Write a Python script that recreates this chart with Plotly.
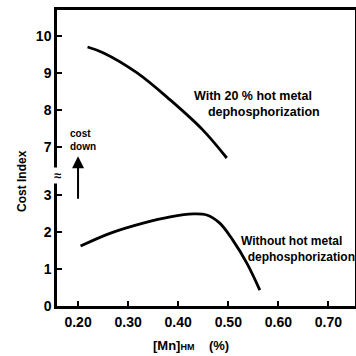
import plotly.graph_objects as go

mn_with = [0.219, 0.251, 0.318, 0.384, 0.449, 0.497]
cost_with = [9.70, 9.54, 9.00, 8.27, 7.46, 6.70]   # upper scale (7-10)

mn_without = [0.205, 0.265, 0.330, 0.384, 0.430, 0.457, 0.483, 0.509, 0.537, 0.563]
cost_without = [1.62, 1.97, 2.24, 2.41, 2.49, 2.46, 2.24, 1.78, 1.16, 0.43]

x_ticks = [0.20, 0.30, 0.40, 0.50, 0.60, 0.70]
x_labels = ["0.20", "0.30", "0.40", "0.50", "0.60", "0.70"]
y_low_ticks = [0, 1, 2, 3]
y_high_ticks = [7, 8, 9, 10]

BREAK_SHIFT = 2.7  # upper scale displayed shifted down (axis break)

def up(v):
    return v - BREAK_SHIFT

FONT = "Liberation Sans"
fig = go.Figure()
fig.add_trace(go.Scatter(x=mn_with, y=[up(v) for v in cost_with], mode="lines",
                         line=dict(color="black", width=2.8, shape="spline"), showlegend=False))
fig.add_trace(go.Scatter(x=mn_without, y=cost_without, mode="lines",
                         line=dict(color="black", width=2.8, shape="spline"), showlegend=False))

tickvals = y_low_ticks + [up(v) for v in y_high_ticks]
ticktext = [str(v) for v in y_low_ticks + y_high_ticks]

fig.update_layout(
    width=356, height=356,
    margin=dict(l=57, r=1, t=10, b=50, autoexpand=False),
    paper_bgcolor="white", plot_bgcolor="white",
    font=dict(family=FONT, color="black"),
    xaxis=dict(range=[0.158, 0.753], tickvals=x_ticks, ticktext=x_labels,
               ticks="inside", ticklen=5, tickwidth=2, tickcolor="black",
               showline=True, linecolor="black", linewidth=2.5, mirror=True,
               showgrid=False, zeroline=False,
               tickfont=dict(size=14, family=FONT, weight="bold"),
               ticklabelstandoff=1),
    yaxis=dict(range=[0, 8.0], tickvals=tickvals, ticktext=ticktext,
               ticks="inside", ticklen=5, tickwidth=2, tickcolor="black",
               showline=True, linecolor="black", linewidth=2.5, mirror=True,
               showgrid=False, zeroline=False,
               tickfont=dict(size=14, family=FONT, weight="bold"),
               ticklabelstandoff=0),
)

# axis titles
fig.add_annotation(x=(191 - 57) / 298, xref="paper", y=-0.132, yref="paper",
                   text="[Mn]<span style='font-size:9px'>HM</span>    (%)", showarrow=False,
                   font=dict(size=13, family=FONT, weight="bold"), xanchor="center", yanchor="middle")
fig.add_annotation(x=(22 - 57) / 298, xref="paper", y=(306 - 181) / 296, yref="paper",
                   text="Cost Index", showarrow=False,
                   font=dict(size=12, family=FONT, weight="bold"), textangle=-90,
                   xanchor="center", yanchor="middle")

# axis break mark
fig.add_annotation(x=0, xref="paper", y=3.54, yref="y", text="≈", showarrow=False,
                   font=dict(size=13, family=FONT, weight="bold"), bgcolor="white",
                   borderpad=0, xanchor="center", yanchor="middle")

# cost down arrow
fig.add_annotation(x=0.20, y=4.05, ax=0.20, ay=2.86, xref="x", yref="y", axref="x", ayref="y",
                   text="", showarrow=True, arrowhead=2, arrowsize=1.2, arrowwidth=2, arrowcolor="black")
fig.add_annotation(x=0.209, y=4.49, xref="x", yref="y", text="cost<br>down", showarrow=False,
                   font=dict(size=10, family=FONT, weight="bold"), align="left", xanchor="center")

fig.add_annotation(x=0.428, y=up(8.16), xref="x", yref="y",
                   text="With 20 % hot metal<br>    dephosphorization", showarrow=False,
                   font=dict(size=12.5, family=FONT, weight="bold"), align="left", xanchor="left")
fig.add_annotation(x=0.522, y=1.54, xref="x", yref="y",
                   text="Without hot metal<br>  dephosphorization", showarrow=False,
                   font=dict(size=12, family=FONT, weight="bold"), align="left", xanchor="left")

fig.write_html("out.html", post_script="document.body.style.margin='0';",
               config={"displayModeBar": False})
